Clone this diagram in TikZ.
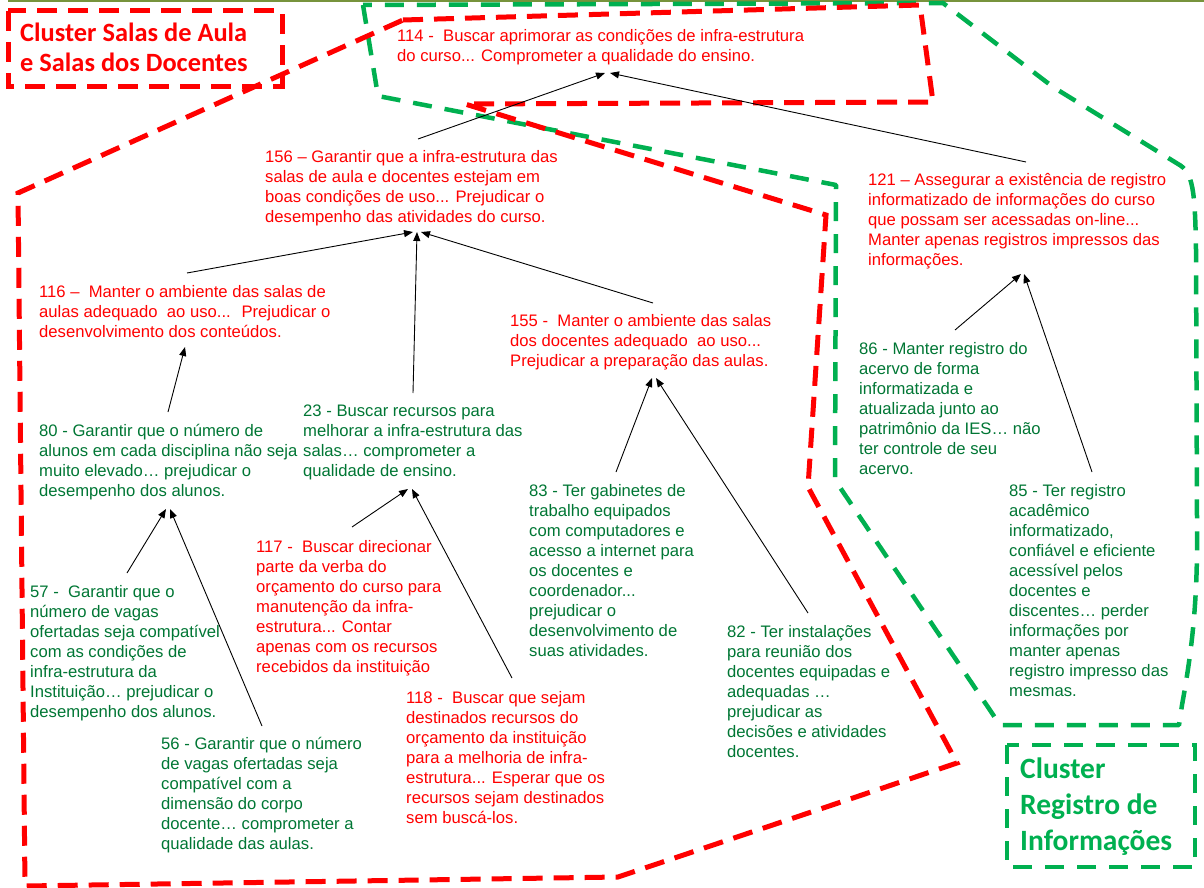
\documentclass[tikz,border=0pt]{standalone}
\usepackage{fontspec}
\setmainfont{Liberation Sans}
\newfontfamily\titlefont{Carlito}
\usetikzlibrary{arrows.meta}
\definecolor{cred}{RGB}{255,0,0}
\definecolor{cgreen}{RGB}{0,176,80}
\definecolor{tgreen}{RGB}{0,118,52}
\definecolor{colive}{RGB}{119,147,60}
\tikzset{
  txt/.style={anchor=base west, align=left, inner sep=0pt, font=\fontsize{16.65}{20}\selectfont},
  rtxt/.style={txt, text=cred},
  gtxt/.style={txt, text=tgreen},
  redline/.style={draw=cred, line width=5pt, dash pattern=on 20pt off 11pt, line join=miter},
  greenline/.style={draw=cgreen, line width=4.5pt, dash pattern=on 19pt off 13pt, line join=round},
  arr/.style={draw=black, line width=0.9pt, -{Triangle[length=9pt,width=7pt]}},
}
\begin{document}
\begin{tikzpicture}[x=1pt,y=-1pt]
\useasboundingbox (0,0) rectangle (1204,888);
% top rule
\draw[colive, line width=2pt] (8,0.8) -- (1204,0.8);

% green cluster outline
\draw[greenline] (363,5) -- (378,96) -- (836,185) -- (835,480) -- (1000,725) -- (1179,725)
  -- (1182,705) .. controls (1192,650) and (1198,600) .. (1197,520) -- (1196,250)
  .. controls (1195,190) and (1193,172) .. (1178,164) -- (1053,87) -- (943,3) -- cycle;

% red cluster outline
\draw[redline] (403,20) -- (920,5) -- (933,102) -- (465,104) -- (826,215) -- (808,487)
  -- (957,763) -- (618,877) -- (25,886) -- (18,193) -- cycle;

% cluster labels (base anchor = baseline of last line)
\draw[redline] (8,11) rectangle (282,87);
\node[anchor=base west, align=left, inner sep=0pt, text=cred,
  font=\titlefont\bfseries\fontsize{26.4}{30}\selectfont] (lblred) at (20,72)
  {Cluster Salas de Aula\\e Salas dos Docentes};
\draw[greenline, line join=miter] (1007,745) rectangle (1195,867);
\node[anchor=base west, align=left, inner sep=0pt, text=cgreen,
  font=\titlefont\bfseries\fontsize{29.5}{36}\selectfont] (lblgreen) at (1020,850)
  {Cluster\\Registro de\\Informações};

% statements
\node[rtxt] (n114) at (397,62) {114 -~ Buscar aprimorar as condições de infra-estrutura\\do curso... Comprometer a qualidade do ensino.};
\node[rtxt] (n156) at (265,222) {156 – Garantir que a infra-estrutura das\\salas de aula e docentes estejam em\\boas condições de uso... Prejudicar o\\desempenho das atividades do curso.};
\node[rtxt] (n121) at (868,265) {121 – Assegurar a existência de registro\\informatizado de informações do curso\\que possam ser acessadas on-line...\\Manter apenas registros impressos das\\informações.};
\node[rtxt] (n116) at (39,337) {116 –~ Manter o ambiente das salas de\\aulas adequado~ ao uso...~ Prejudicar o\\desenvolvimento dos conteúdos.};
\node[rtxt] (n155) at (510,366) {155 -~ Manter o ambiente das salas\\dos docentes adequado~ ao uso...\\Prejudicar a preparação das aulas.};
\node[gtxt] (n80) at (39,496) {80 - Garantir que o número de\\alunos em cada disciplina não seja\\muito elevado… prejudicar o\\desempenho dos alunos.};
\node[gtxt] (n23) at (303,476) {23 - Buscar recursos para\\melhorar a infra-estrutura das\\salas… comprometer a\\qualidade de ensino.};
\node[gtxt] (n86) at (859,474) {86 - Manter registro do\\acervo de forma\\informatizada e\\atualizada junto ao\\patrimônio da IES… não\\ter controle de seu\\acervo.};
\node[gtxt] (n85) at (1009,696) {85 - Ter registro\\acadêmico\\informatizado,\\confiável e eficiente\\acessível pelos\\docentes e\\discentes… perder\\informações por\\manter apenas\\registro impresso das\\mesmas.};
\node[gtxt] (n83) at (529,656) {83 - Ter gabinetes de\\trabalho equipados\\com computadores e\\acesso a internet para\\os docentes e\\coordenador...\\prejudicar o\\desenvolvimento de\\suas atividades.};
\node[gtxt] (n82) at (727,757) {82 - Ter instalações\\para reunião dos\\docentes equipadas e\\adequadas …\\prejudicar as\\decisões e atividades\\docentes.};
\node[rtxt] (n117) at (256,672) {117 -~ Buscar direcionar\\parte da verba do\\orçamento do curso para\\manutenção da infra-\\estrutura... Contar\\apenas com os recursos\\recebidos da instituição};
\node[rtxt] (n118) at (406,823) {118 -~ Buscar que sejam\\destinados recursos do\\orçamento da instituição\\para a melhoria de infra-\\estrutura... Esperar que os\\recursos sejam destinados\\sem buscá-los.};
\node[gtxt] (n57) at (30,717) {57 -~ Garantir que o\\número de vagas\\ofertadas seja compatível\\com as condições de\\infra-estrutura da\\Instituição… prejudicar o\\desempenho dos alunos.};
\node[gtxt] (n56) at (161,849) {56 - Garantir que o número\\de vagas ofertadas seja\\compatível com a\\dimensão do corpo\\docente… comprometer a\\qualidade das aulas.};

% connector end points
\coordinate (o156) at (418,139);  \coordinate (i114a) at (605,73);
\coordinate (o121) at (1026,162); \coordinate (i114b) at (610,73);
\coordinate (o116) at (187,273);  \coordinate (i156a) at (413,232);
\coordinate (o23)  at (413,393);  \coordinate (i156b) at (417,232);
\coordinate (o155) at (653,303);  \coordinate (i156c) at (421,232);
\coordinate (o80)  at (168,412);  \coordinate (i116)  at (185,347);
\coordinate (o57)  at (127,573);  \coordinate (i80a)  at (166,509);
\coordinate (o56)  at (262,726);  \coordinate (i80b)  at (170,509);
\coordinate (o117) at (352,527);  \coordinate (i23a)  at (408,489);
\coordinate (o118) at (512,678);  \coordinate (i23b)  at (412,489);
\coordinate (o83)  at (616,472);  \coordinate (i155a) at (652,378);
\coordinate (o82)  at (808,613);  \coordinate (i155b) at (656,378);
\coordinate (o86)  at (955,330);  \coordinate (i121a) at (1021,274);
\coordinate (o85)  at (1092,472); \coordinate (i121b) at (1024,274);

\draw[arr] (o156) -- (i114a);
\draw[arr] (o121) -- (i114b);
\draw[arr] (o116) -- (i156a);
\draw[arr] (o23) -- (i156b);
\draw[arr] (o155) -- (i156c);
\draw[arr] (o80) -- (i116);
\draw[arr] (o57) -- (i80a);
\draw[arr] (o56) -- (i80b);
\draw[arr] (o117) -- (i23a);
\draw[arr] (o118) -- (i23b);
\draw[arr] (o83) -- (i155a);
\draw[arr] (o82) -- (i155b);
\draw[arr] (o86) -- (i121a);
\draw[arr] (o85) -- (i121b);
\end{tikzpicture}
\end{document}
